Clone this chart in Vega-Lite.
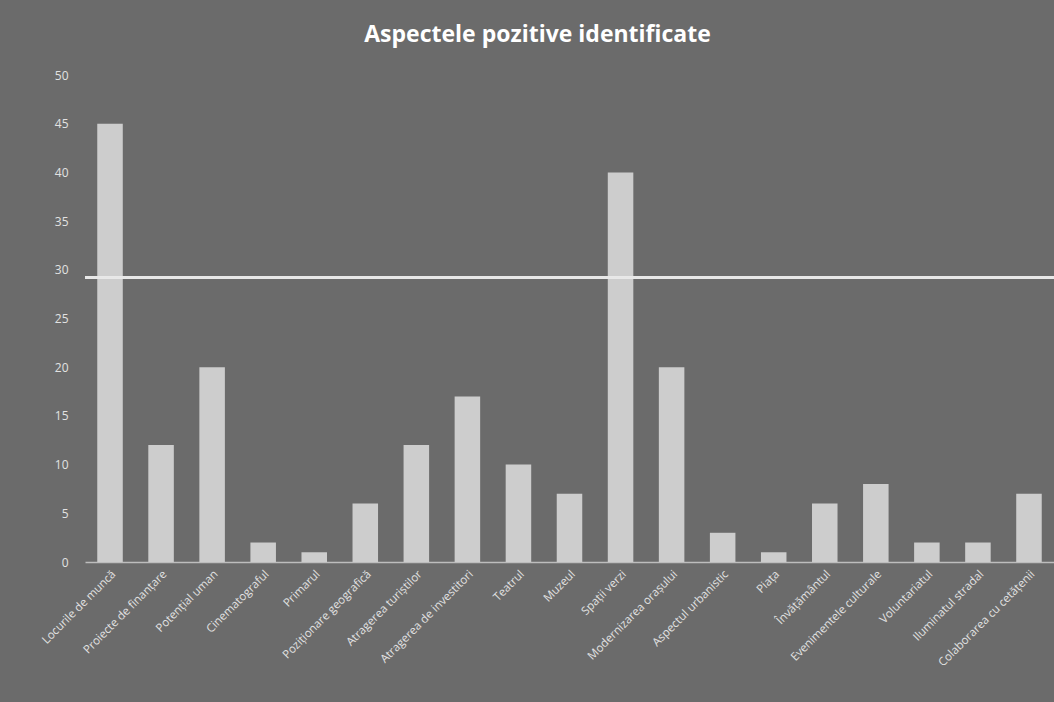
{
  "$schema": "https://vega.github.io/schema/vega-lite/v6.json",
  "width": 969,
  "height": 487,
  "autosize": {"type": "none"},
  "padding": {"left": 85, "top": 75, "right": 0, "bottom": 140},
  "background": "#6b6b6b",
  "title": {
    "text": "Aspectele pozitive identificate",
    "color": "#ffffff",
    "fontSize": 23,
    "font": "Open Sans",
    "fontWeight": "bold",
    "offset": 22,
    "dx": -32
  },
  "config": {
    "view": {"stroke": null},
    "axis": {"labelFont": "Open Sans", "grid": false}
  },
  "data": {
    "values": [
      {"aspect": "Locurile de muncă", "n": 45},
      {"aspect": "Proiecte de finanțare", "n": 12},
      {"aspect": "Potențial uman", "n": 20},
      {"aspect": "Cinematograful", "n": 2},
      {"aspect": "Primarul", "n": 1},
      {"aspect": "Poziționare geografică", "n": 6},
      {"aspect": "Atragerea turiștilor", "n": 12},
      {"aspect": "Atragerea de investitori", "n": 17},
      {"aspect": "Teatrul", "n": 10},
      {"aspect": "Muzeul", "n": 7},
      {"aspect": "Spații verzi", "n": 40},
      {"aspect": "Modernizarea orașului", "n": 20},
      {"aspect": "Aspectul urbanistic", "n": 3},
      {"aspect": "Piața", "n": 1},
      {"aspect": "Învățământul", "n": 6},
      {"aspect": "Evenimentele culturale", "n": 8},
      {"aspect": "Voluntariatul", "n": 2},
      {"aspect": "Iluminatul stradal", "n": 2},
      {"aspect": "Colaborarea cu cetățenii", "n": 7}
    ]
  },
  "layer": [
    {
      "mark": {"type": "bar", "color": "#cdcdcd"},
      "encoding": {
        "x": {
          "field": "aspect",
          "type": "nominal",
          "sort": null,
          "scale": {"paddingInner": 0.5, "paddingOuter": 0.24},
          "axis": {
            "title": null,
            "labelAngle": -45,
            "labelColor": "#e2e2e2",
            "labelFontSize": 11.5,
            "labelPadding": 6,
            "ticks": false,
            "domainColor": "#bdbdbd",
            "domainWidth": 1.5
          }
        },
        "y": {
          "field": "n",
          "type": "quantitative",
          "scale": {"domain": [0, 50]},
          "axis": {
            "title": null,
            "values": [0, 5, 10, 15, 20, 25, 30, 35, 40, 45, 50],
            "labelColor": "#e2e2e2",
            "labelFontSize": 12,
            "labelPadding": 17,
            "ticks": false,
            "domain": false
          }
        }
      }
    },
    {
      "mark": {"type": "rule", "color": "#e8e8e8", "strokeWidth": 2.5, "opacity": 0.6},
      "encoding": {"y": {"datum": 29.2}}
    }
  ]
}
